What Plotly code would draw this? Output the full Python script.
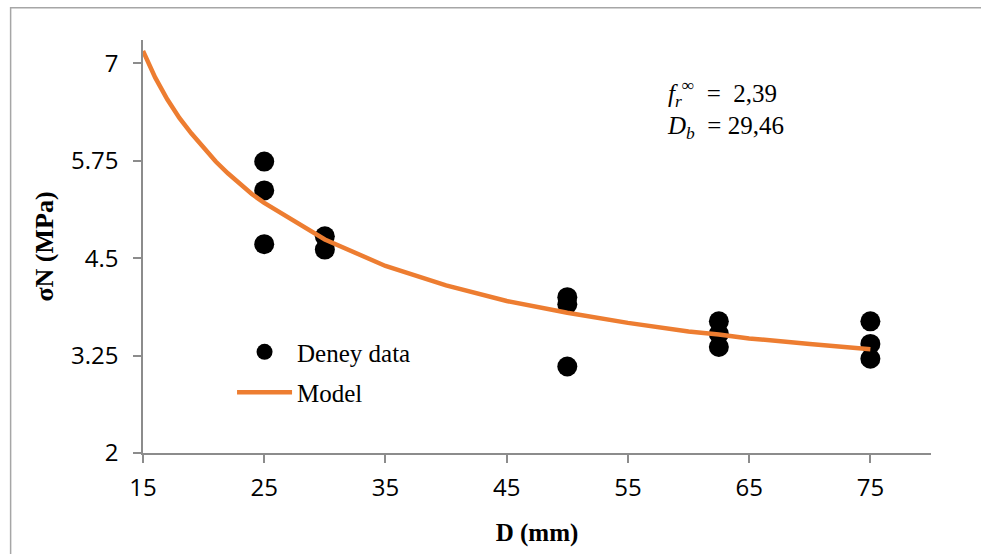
import plotly.graph_objects as go

# Experimental data (Deney data)
data_D = [25, 25, 25, 30, 30, 50, 50, 50, 62.5, 62.5, 62.5, 75, 75, 75]
data_sigma = [5.74, 5.37, 4.68, 4.78, 4.61, 4.00, 3.91, 3.11, 3.69, 3.53, 3.36, 3.69, 3.40, 3.21]

# Model curve values
model_D = [15, 16, 17, 18, 19, 20, 21, 22, 23, 24, 25, 30, 35, 40, 45, 50, 55, 60, 62.5, 65, 70, 75]
model_sigma = [7.16, 6.82, 6.54, 6.30, 6.10, 5.91, 5.74, 5.59, 5.45, 5.32, 5.21, 4.74, 4.40,
               4.15, 3.95, 3.80, 3.67, 3.56, 3.52, 3.47, 3.40, 3.33]

y_ticks = [2, 3.25, 4.5, 5.75, 7]
y_tick_text = ["2", "3.25", "4.5", "5.75", "7"]
x_ticks = [15, 25, 35, 45, 55, 65, 75]

axis_grey = "#8C8C8C"
orange = "#ED7D31"

fig = go.Figure()
fig.add_trace(go.Scatter(
    x=data_D, y=data_sigma, mode="markers", name="Deney data",
    legendgroup="data", marker=dict(color="black", size=20),
))
fig.add_trace(go.Scatter(
    x=model_D, y=model_sigma, mode="lines", name="Model",
    legendgroup="model", line=dict(color=orange, width=4.5),
))

fig.update_layout(
    width=981, height=554,
    margin=dict(l=143, r=50, t=40, b=99),
    paper_bgcolor="white", plot_bgcolor="white",
    font=dict(family="Open Sans", size=24, color="black"),
    showlegend=True,
    legend=dict(
        x=0.113, y=0.30, xanchor="left", yanchor="top",
        bgcolor="rgba(0,0,0,0)", traceorder="grouped",
        font=dict(family="Liberation Serif", size=25, color="black"),
        itemwidth=55, tracegroupgap=5,
    ),
    xaxis=dict(
        range=[15, 80], tickvals=x_ticks,
        showline=True, linecolor=axis_grey, linewidth=1.5,
        ticks="outside", ticklen=8, tickcolor=axis_grey, tickwidth=1.5,
        showgrid=False, zeroline=False, ticklabelstandoff=4,
        tickfont=dict(family="Open Sans", size=24, color="black"),
        title=dict(text="<b>D (mm)</b>", standoff=22,
                   font=dict(family="Liberation Serif", size=25, color="black")),
    ),
    yaxis=dict(
        range=[2, 7.3], tickvals=y_ticks, ticktext=y_tick_text,
        showline=True, linecolor=axis_grey, linewidth=1.5,
        ticks="outside", ticklen=8, tickcolor=axis_grey, tickwidth=1.5,
        showgrid=False, zeroline=False, ticklabelstandoff=10,
        tickfont=dict(family="Open Sans", size=24, color="black"),
        title=dict(text="<b>σN (MPa)</b>", standoff=10,
                   font=dict(family="Liberation Serif", size=26, color="black")),
    ),
    shapes=[dict(
        type="rect", xref="paper", yref="paper",
        x0=-0.168, x1=1.2, y0=-0.6, y1=1.078,
        line=dict(color="#A6A6A6", width=1.5), fillcolor="rgba(0,0,0,0)",
        layer="below",
    )],
    annotations=[
        dict(xref="paper", yref="paper", x=0.663, y=1 - (109 - 40) / 415,
             xanchor="left", yanchor="middle", align="left", showarrow=False,
             text="<i>f</i><sub><i>r</i></sub><sup>∞</sup>  =  2,39<br>"
                  "<i>D</i><sub><i>b</i></sub>  = 29,46",
             font=dict(family="Liberation Serif", size=25, color="black")),
    ],
)

fig.write_html("out.html", config={"displayModeBar": False},
               post_script="document.body.style.margin='0px';")
